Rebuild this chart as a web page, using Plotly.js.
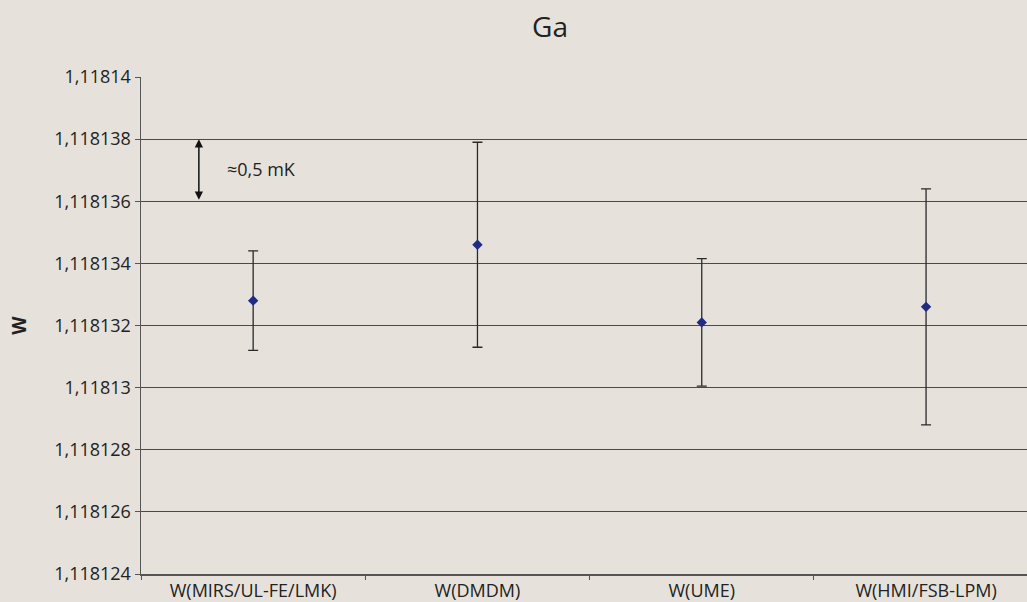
<!DOCTYPE html>
<html>
<head>
<meta charset="utf-8">
<script src="https://cdn.plot.ly/plotly-3.0.1.min.js"></script>
<style>html,body{margin:0;padding:0;background:#E6E2DB;}</style>
</head>
<body>
<div id="chart" style="width:1027px;height:602px;"></div>
<script>
const categories = ["W(MIRS/UL-FE/LMK)", "W(DMDM)", "W(UME)", "W(HMI/FSB-LPM)"];
const values = [1.1181328, 1.1181346, 1.1181321, 1.1181326];
const errors = [0.0000016, 0.0000033, 0.00000205, 0.0000038];
const yTickVals = [1.118124, 1.118126, 1.118128, 1.11813, 1.118132, 1.118134, 1.118136, 1.118138, 1.11814];
const yTickText = ["1,118124", "1,118126", "1,118128", "1,11813", "1,118132", "1,118134", "1,118136", "1,118138", "1,11814"];
const chartTitle = "Ga";
const yTitle = "W";
const noteText = "≈0,5 mK";
const noteFrom = 1.118136;
const noteTo = 1.118138;

const fontFam = "Open Sans, DejaVu Sans, sans-serif";

const trace = {
  type: "scatter",
  mode: "markers",
  x: categories,
  y: values,
  marker: {symbol: "diamond", size: 8, color: "#1F2B85"},
  error_y: {type: "data", array: errors, visible: true, color: "#2a2a2a", thickness: 1.3, width: 5},
  hoverinfo: "skip",
  showlegend: false
};

const layout = {
  width: 1027, height: 602,
  paper_bgcolor: "#E6E2DB",
  plot_bgcolor: "#E6E2DB",
  margin: {l: 141, r: 0, t: 77, b: 28},
  font: {family: fontFam, color: "#222", size: 18},
  title: {text: chartTitle, x: 550/1027, xref: "container", xanchor: "center", y: 1 - 27/602, yref: "container", yanchor: "middle", font: {size: 28, color: "#222", family: fontFam}},
  xaxis: {
    type: "category",
    range: [-0.5, 3.45],
    showgrid: false,
    showline: true, linecolor: "#555", linewidth: 1.5,
    ticks: "outside", ticklen: 4, tickcolor: "#555", tickson: "boundaries",
    tickfont: {size: 18, color: "#222"},
    zeroline: false, fixedrange: true
  },
  yaxis: {
    range: [1.118124, 1.11814],
    tickvals: yTickVals, ticktext: yTickText,
    showgrid: true, gridcolor: "#4a4a4a", gridwidth: 1,
    showline: true, linecolor: "#555", linewidth: 1.5,
    ticks: "outside", ticklen: 5, tickcolor: "#555",
    tickfont: {size: 18, color: "#222"},
    zeroline: false, fixedrange: true,
    title: {text: yTitle, font: {size: 19, color: "#222", family: fontFam, weight: "bold"}, standoff: 22}
  },
  annotations: [
    {x: -0.242, y: noteTo, ax: -0.242, ay: noteFrom, xref: "x", yref: "y", axref: "x", ayref: "y",
     text: "", showarrow: true, arrowhead: 2, arrowside: "end+start", arrowsize: 1.1, arrowwidth: 1.5, arrowcolor: "#111", startarrowhead: 2, startarrowsize: 1.1},
    {x: -0.126, y: (noteFrom + noteTo) / 2 + 0.00000003, xref: "x", yref: "y", xanchor: "left", yanchor: "middle",
     text: noteText, showarrow: false, font: {size: 18, color: "#222"}}
  ]
};

Plotly.newPlot("chart", [trace], layout, {displayModeBar: false, staticPlot: true});
</script>
</body>
</html>
